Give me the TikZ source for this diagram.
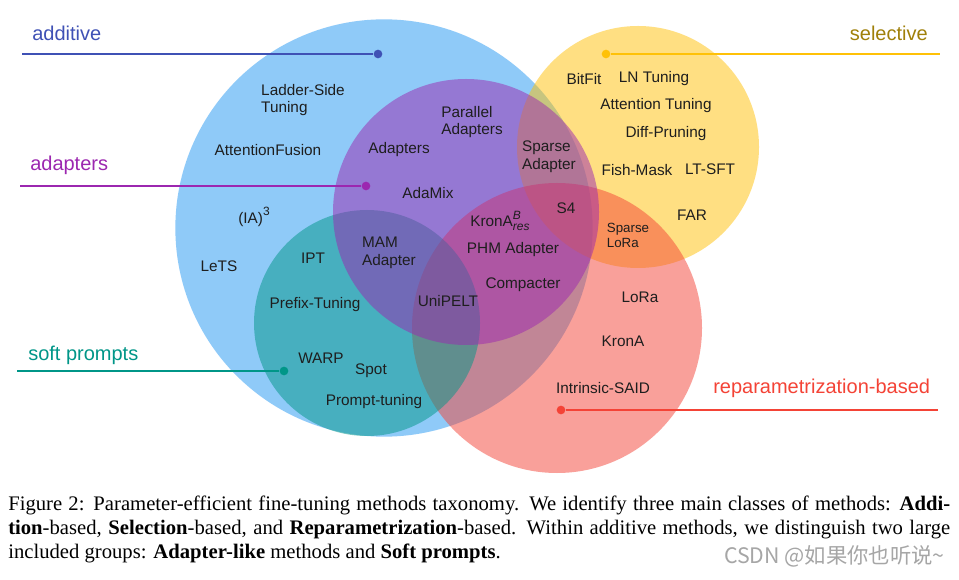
\documentclass[tikz,border=0pt]{standalone}
\usepackage{fontspec}
\setmainfont{Liberation Serif}
\newfontfamily\diag{Liberation Sans}
\newfontfamily\cjk{Noto Sans CJK SC}
\definecolor{mblue}{RGB}{33,150,243}
\definecolor{mpurple}{RGB}{156,39,176}
\definecolor{mteal}{RGB}{0,150,136}
\definecolor{mred}{RGB}{244,67,54}
\definecolor{mamber}{RGB}{255,193,7}
\definecolor{mindigo}{RGB}{63,81,181}
\definecolor{olive}{RGB}{160,128,10}
\definecolor{txt}{RGB}{30,30,30}
\newcommand{\supsub}[2]{\rlap{\raisebox{5.5pt}{\fontsize{9}{9}\selectfont\itshape #1}}\raisebox{-3pt}{\fontsize{9}{9}\selectfont\itshape #2}}
\newcommand{\supone}[1]{\raisebox{5.5pt}{\fontsize{9}{9}\selectfont #1}}
\begin{document}
\begin{tikzpicture}[x=0.75pt,y=-0.75pt,
  circ/.style={fill opacity=0.5},
  lbl/.style={font=\diag\fontsize{11.5}{13.2}\selectfont, text=txt, inner sep=0pt, align=left, yshift=-1.5pt},
  small/.style={font=\diag\fontsize{10}{11}\selectfont, text=txt, inner sep=0pt, align=left, yshift=-1pt},
  cat/.style={font=\diag\fontsize{15}{17}\selectfont, inner sep=0pt},
  dotn/.style={circle, inner sep=0pt, minimum size=6.5pt},
  leader/.style={line width=1.1pt},
  capl/.style={font=\fontsize{15.5}{18}\selectfont, inner sep=0pt, anchor=base west}
]
\useasboundingbox (0,0) rectangle (959,580);
\fill[white] (0,0) rectangle (959,580);

% circles
\fill[mblue,circ]   (384,228) circle [radius=156.5pt];
\fill[mamber,circ]  (638,147) circle [radius=90.75pt];
\fill[mred,circ]    (557,328) circle [radius=108.75pt];
\fill[mteal,circ]   (367,323) circle [radius=84.75pt];
\fill[mpurple,circ] (466,212) circle [radius=99.75pt];

% category labels with leader lines
\node[cat, text=mindigo, anchor=west] (tadd) at (32,33) {additive};
\node[dotn, fill=mindigo] (dadd) at (378,54) {};
\coordinate (eadd) at (22,54);
\draw[leader, mindigo] (eadd) -- (dadd);

\node[cat, text=mpurple, anchor=west] (tada) at (30,165) {adapters};
\node[dotn, fill=mpurple] (dada) at (366,186) {};
\coordinate (eada) at (20,186);
\draw[leader, mpurple] (eada) -- (dada);

\node[cat, text=mteal, anchor=west] (tsoft) at (28,355) {soft prompts};
\node[dotn, fill=mteal] (dsoft) at (284,371) {};
\coordinate (esoft) at (17,371);
\draw[leader, mteal] (esoft) -- (dsoft);

\node[cat, text=olive, anchor=east] (tsel) at (928,33) {selective};
\node[dotn, fill=mamber] (dsel) at (606,54) {};
\coordinate (esel) at (940,54);
\draw[leader, mamber] (dsel) -- (esel);

\node[cat, text=mred, anchor=west] (trep) at (713,388) {reparametrization-based};
\node[dotn, fill=mred] (drep) at (561,410) {};
\coordinate (erep) at (938,410);
\draw[leader, mred] (drep) -- (erep);

% method names
\node[lbl] (ladder) at (303,98) {Ladder-Side\\Tuning};
\node[lbl] (afus) at (268,148) {AttentionFusion};
\node[lbl] (ia3) at (254,215) {(IA)\supone{3}};
\node[lbl] (lets) at (219,264) {LeTS};
\node[lbl] (par) at (472,120) {Parallel\\Adapters};
\node[lbl] (adap) at (399,148) {Adapters};
\node[lbl] (adamix) at (428,191) {AdaMix};
\node[lbl] (spad) at (549,155) {Sparse\\Adapter};
\node[lbl] (s4) at (566,206) {S4};
\node[lbl] (krres) at (500,219) {KronA\supsub{B}{res}};
\node[lbl] (phm) at (513,248) {PHM Adapter};
\node[lbl] (comp) at (523,283) {Compacter};
\node[lbl] (mam) at (389,251) {MAM\\Adapter};
\node[lbl] (ipt) at (313,256) {IPT};
\node[lbl] (prefix) at (315,303) {Prefix-Tuning};
\node[lbl] (unipelt) at (448,299) {UniPELT};
\node[lbl] (warp) at (321,356) {WARP};
\node[lbl] (spot) at (371,369) {Spot};
\node[lbl] (ptun) at (374,400) {Prompt-tuning};
\node[lbl] (bitfit) at (584,77) {BitFit};
\node[lbl] (lntun) at (654,77) {LN Tuning};
\node[lbl] (atun) at (656,104) {Attention Tuning};
\node[lbl] (diffp) at (666,132) {Diff-Pruning};
\node[lbl] (fish) at (637,168) {Fish-Mask};
\node[lbl] (ltsft) at (710,167) {LT-SFT};
\node[lbl] (far) at (692,213) {FAR};
\node[small] (splora) at (628,234) {Sparse\\LoRa};
\node[lbl] (lora) at (640,295) {LoRa};
\node[lbl] (krona) at (623,339) {KronA};
\node[lbl] (isaid) at (603,386) {Intrinsic-SAID};

% caption
\node[capl] (cap1) at (8,510) {\makebox[706.5pt][s]{Figure 2: Parameter-efficient fine-tuning methods taxonomy. We identify three main classes of methods: \textbf{Addi-}}};
\node[capl] (cap2) at (8,534) {\makebox[706.5pt][s]{\textbf{tion}-based, \textbf{Selection}-based, and \textbf{Reparametrization}-based. Within additive methods, we distinguish two large}};
\node[capl] (cap3) at (8,558) {included groups: \textbf{Adapter-like} methods and \textbf{Soft prompts}.};
\node[font=\cjk\fontsize{16}{18}\selectfont, text=black!35, anchor=base east, inner sep=0pt] (wm) at (945,563) {CSDN @如果你也听说\textasciitilde};
\end{tikzpicture}
\end{document}
